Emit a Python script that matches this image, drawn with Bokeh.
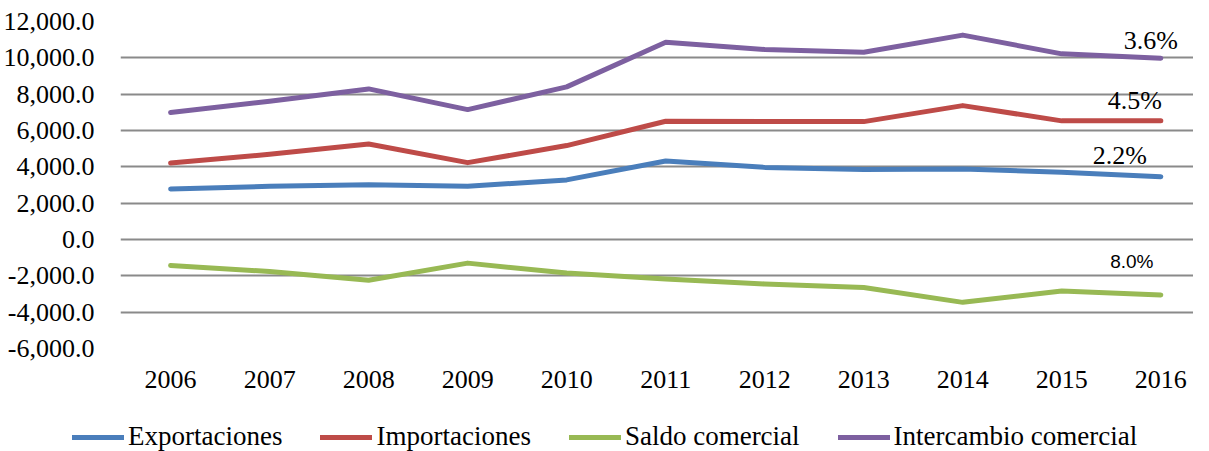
from bokeh.plotting import figure
from bokeh.layouts import column, row
from bokeh.models import Range1d, NumeralTickFormatter, FixedTicker, Legend, LegendItem
from bokeh.core.properties import value
from bokeh.embed import file_html
from bokeh.resources import INLINE

years = [2006, 2007, 2008, 2009, 2010, 2011, 2012, 2013, 2014, 2015, 2016]
exportaciones = [2780, 2930, 3020, 2930, 3280, 4320, 3970, 3850, 3880, 3700, 3460]
importaciones = [4210, 4690, 5260, 4230, 5170, 6510, 6490, 6490, 7370, 6530, 6530]
saldo = [-1430, -1760, -2240, -1300, -1850, -2180, -2450, -2640, -3460, -2830, -3050]
intercambio = [6990, 7610, 8290, 7150, 8400, 10860, 10460, 10310, 11250, 10220, 9980]
series_names = ["Exportaciones", "Importaciones", "Saldo comercial", "Intercambio comercial"]
tasas = ["2.2%", "4.5%", "8.0%", "3.6%"]
y_ticks = [-6000, -4000, -2000, 0, 2000, 4000, 6000, 8000, 10000, 12000]

colors = ["#4a7ebb", "#be4b48", "#98b954", "#7d60a0"]
SERIF = "Liberation Serif"
FS = "26px"

p = figure(x_range=Range1d(2005.494, 2016.33), y_range=Range1d(-6000, 12000),
           width=1193, height=407, output_backend="svg", toolbar_location=None,
           min_border_left=116, min_border_right=0, min_border_top=21, min_border_bottom=59)
p.outline_line_color = None
p.background_fill_color = "white"

all_series = [exportaciones, importaciones, saldo, intercambio]
for vals, c in zip(all_series, colors):
    p.line(years, vals, line_color=c, line_width=5, line_cap="round", line_join="round")

# growth-rate annotations at last point
offs = [(-41, -21), (-26, -20), (-29, -33), (-10, -18)]
for i, (vals, t) in enumerate(zip(all_series, tasas)):
    narrow = (t == "8.0%")
    p.text(x=[years[-1]], y=[vals[-1]], text=[t], x_offset=offs[i][0], y_offset=offs[i][1],
           text_font=value("Liberation Sans" if narrow else SERIF),
           text_font_size="19px" if narrow else FS, text_align="center",
           text_baseline="middle", text_color="black")

p.xgrid.grid_line_color = None
p.ygrid.grid_line_color = "#8a8a8a"
p.ygrid.grid_line_width = 2
p.xaxis.ticker = FixedTicker(ticks=years)
p.yaxis.ticker = FixedTicker(ticks=y_ticks)
p.yaxis.formatter = NumeralTickFormatter(format="0,0.0")

for ax in (p.xaxis, p.yaxis):
    ax.axis_line_color = None
    ax.major_tick_line_color = None
    ax.minor_tick_line_color = None
    ax.major_label_text_font = SERIF
    ax.major_label_text_font_size = FS
    ax.major_label_text_color = "black"
p.yaxis.major_label_standoff = 20
p.xaxis.major_label_standoff = 16

# legend strip below the chart (its renderers sit outside the strip's ranges)
q = figure(x_range=Range1d(0, 1), y_range=Range1d(0, 1), width=1193, height=45,
           output_backend="svg", toolbar_location=None,
           x_axis_location=None, y_axis_location=None,
           min_border_left=0, min_border_right=0, min_border_top=0, min_border_bottom=0)
q.outline_line_color = None
q.xgrid.grid_line_color = None
q.ygrid.grid_line_color = None
legend_renderers = [q.line(years, vals, line_color=c, line_width=5, line_cap="round")
                    for vals, c in zip(all_series, colors)]
legend = Legend(items=[LegendItem(label=n, renderers=[r]) for n, r in zip(series_names, legend_renderers)],
                orientation="horizontal", location=(72, 0),
                label_text_font=SERIF, label_text_font_size="27px", label_text_color="black",
                glyph_width=52, glyph_height=20, label_standoff=4, spacing=38,
                padding=0, margin=0, border_line_color=None, background_fill_alpha=0)
q.add_layout(legend, "center")

layout = column(p, row(q), spacing=0)
open("out.html", "w").write(file_html(layout, INLINE))
